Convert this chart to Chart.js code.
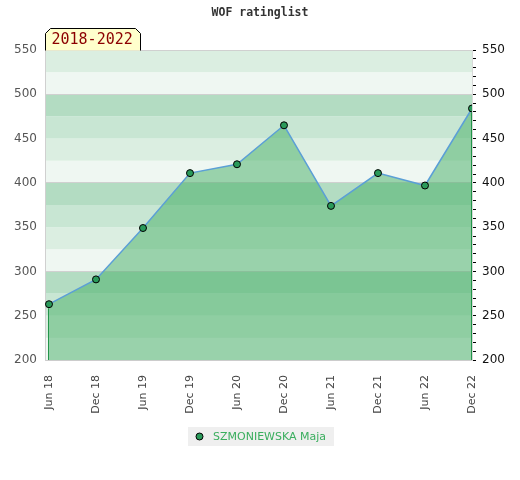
<!DOCTYPE html>
<html>
<head>
<meta charset="utf-8">
<script src="https://cdn.jsdelivr.net/npm/chart.js@4"></script>
<style>
  html, body { margin: 0; padding: 0; background: #fff; }
  #wrap { width: 520px; height: 480px; }
</style>
</head>
<body>
<div id="wrap"><canvas id="ratingChart"></canvas></div>
<script>
// dados do gráfico
const periodos = ['Jun 18', 'Dec 18', 'Jun 19', 'Dec 19', 'Jun 20', 'Dec 20', 'Jun 21', 'Dec 21', 'Jun 22', 'Dec 22'];
const ratings = [263, 291, 349, 411, 421, 465, 374, 411, 397, 484];
const nomeJogador = 'SZMONIEWSKA Maja';
const titulo = 'WOF ratinglist';
const faixaAnos = '2018-2022';
const yMin = 200, yMax = 550;

// cores das faixas (valor mod 100)
const coresFaixa = ['#eff7f2', '#dbeee1', '#c8e6d3', '#b3dcc2'];

const faixasPlugin = {
    id: 'faixas',
    beforeDraw(chart) {
        const { ctx, chartArea, scales } = chart;
        const y = scales.y;
        ctx.save();
        for (let v = yMin; v < yMax; v += 25) {
            const top = y.getPixelForValue(v + 25);
            const bot = y.getPixelForValue(v);
            ctx.fillStyle = coresFaixa[(v % 100) / 25];
            ctx.fillRect(chartArea.left, top, chartArea.right - chartArea.left, bot - top);
        }
        ctx.restore();
    },
    afterDatasetsDraw(chart) {
        // linhas verticais nas pontas da área
        const { ctx, scales } = chart;
        const x = scales.x, y = scales.y;
        ctx.save();
        ctx.strokeStyle = '#23954a';
        ctx.lineWidth = 1;
        [0, ratings.length - 1].forEach(i => {
            const px = Math.round(x.getPixelForValue(i)) - 0.5;
            ctx.beginPath();
            ctx.moveTo(px, y.getPixelForValue(ratings[i]) + 4);
            ctx.lineTo(px, y.getPixelForValue(yMin));
            ctx.stroke();
        });
        ctx.restore();
    },
    afterDraw(chart) {
        const { ctx, chartArea } = chart;
        ctx.save();
        // título
        ctx.fillStyle = '#333';
        ctx.font = 'bold 11.5px "DejaVu Sans Mono"';
        ctx.textAlign = 'center';
        ctx.textBaseline = 'middle';
        ctx.fillText(titulo, 260, 13);

        // caixa do período
        const bx = chartArea.left + 0.5, by = 28.5, bw = 95, bh = 22, c = 5;
        ctx.beginPath();
        ctx.moveTo(bx, by + bh);
        ctx.lineTo(bx, by + c);
        ctx.lineTo(bx + c, by);
        ctx.lineTo(bx + bw - c, by);
        ctx.lineTo(bx + bw, by + c);
        ctx.lineTo(bx + bw, by + bh);
        ctx.fillStyle = '#ffffcc';
        ctx.fill();
        ctx.strokeStyle = '#000';
        ctx.lineWidth = 1;
        ctx.stroke();
        ctx.fillStyle = '#8b0000';
        ctx.font = '15px "DejaVu Sans Mono"';
        ctx.textAlign = 'left';
        ctx.fillText(faixaAnos, bx + 6, by + 12);

        // legenda
        ctx.fillStyle = '#efefef';
        ctx.fillRect(188, 427, 146, 19);
        ctx.beginPath();
        ctx.arc(199.5, 436.5, 3.5, 0, Math.PI * 2);
        ctx.fillStyle = '#2a9a5a';
        ctx.fill();
        ctx.strokeStyle = '#000';
        ctx.stroke();
        ctx.fillStyle = '#3aae5e';
        ctx.font = '11px "DejaVu Sans"';
        ctx.fillText(chart.data.datasets[0].label, 213, 437);
        ctx.restore();
    }
};

const ctx = document.getElementById('ratingChart').getContext('2d');

new Chart(ctx, {
    type: 'line',
    data: {
        datasets: [{
            label: nomeJogador,
            data: ratings.map((r, i) => ({ x: i, y: r })),
            borderColor: '#5b9fd6',
            borderWidth: 1.5,
            backgroundColor: 'rgba(67, 174, 100, 0.5)',
            fill: 'start',
            tension: 0,
            pointRadius: 3.5,
            pointBackgroundColor: '#2a9a5a',
            pointBorderColor: '#000',
            pointBorderWidth: 1
        }]
    },
    options: {
        responsive: true,
        maintainAspectRatio: false,
        animation: false,
        layout: { padding: { top: 50, left: 0, right: 0, bottom: 0 } },
        plugins: {
            legend: { display: false },
            tooltip: { enabled: false }
        },
        scales: {
            x: {
                type: 'linear',
                min: -0.085,
                max: periodos.length - 1,
                afterBuildTicks(scale) {
                    scale.ticks = periodos.map((p, i) => ({ value: i }));
                },
                afterFit(scale) { scale.height = 120; },
                ticks: {
                    callback: (v) => periodos[v],
                    minRotation: 90,
                    maxRotation: 90,
                    color: '#444',
                    font: { family: 'DejaVu Sans', size: 11 },
                    padding: 7
                },
                grid: { display: false },
                border: { color: '#cccccc' }
            },
            y: {
                position: 'left',
                min: yMin,
                max: yMax,
                afterFit(scale) { scale.width = 45; },
                ticks: {
                    stepSize: 50,
                    color: '#555',
                    font: { family: 'DejaVu Sans', size: 12 },
                    padding: 8
                },
                grid: {
                    drawTicks: false,
                    color: (c) => (c.tick.value % 100 === 0 || c.tick.value === yMax) ? '#d0d0d0' : 'rgba(0,0,0,0)'
                },
                border: { color: '#d0d0d0' }
            },
            y2: {
                position: 'right',
                min: yMin,
                max: yMax,
                afterFit(scale) { scale.width = 48; },
                afterBuildTicks(scale) {
                    const t = [];
                    for (let v = yMin; v <= yMax; v += 10) t.push({ value: v });
                    scale.ticks = t;
                },
                ticks: {
                    autoSkip: false,
                    callback: (v) => (v % 50 === 0 ? String(v) : ''),
                    color: '#111',
                    font: { family: 'DejaVu Sans', size: 12 },
                    padding: 6
                },
                grid: {
                    drawOnChartArea: false,
                    tickLength: 4,
                    color: '#000'
                },
                border: { color: '#d8d8d8' }
            }
        }
    },
    plugins: [faixasPlugin]
});
</script>
</body>
</html>
